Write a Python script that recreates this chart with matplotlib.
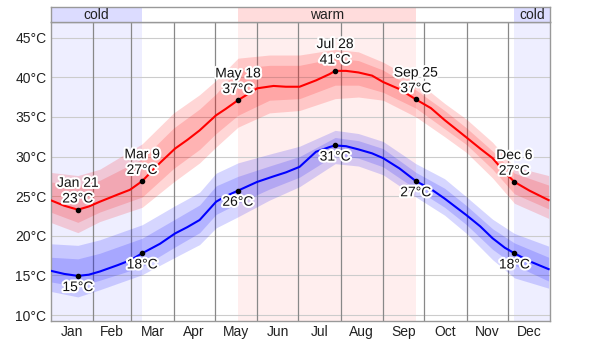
import numpy as np
import matplotlib
matplotlib.use("Agg")
import matplotlib.pyplot as plt
import matplotlib.patheffects as pe

plt.rcParams['font.family'] = ['Liberation Sans', 'DejaVu Sans']

# day of year (0 = Jan 1) and daily mean high / low
days = [0, 10, 20, 28, 36, 49, 58, 67, 80, 91, 100, 109, 121, 128, 137, 151, 163,
        172, 182, 194, 204, 208, 216, 225, 235, 243, 255, 267, 278, 288, 304, 314,
        323, 332, 339, 350, 364]
high = [24.5, 23.8, 23.3, 23.7, 24.3, 25.2, 25.8, 26.9, 29.2, 31.0, 32.1, 33.3,
        35.2, 36.0, 37.1, 38.6, 38.9, 38.8, 38.8, 39.6, 40.4, 40.8, 40.8, 40.6,
        40.2, 39.4, 38.5, 37.2, 36.1, 34.6, 32.4, 31.0, 29.8, 28.0, 26.8, 25.7, 24.5]
low = [15.6, 15.2, 14.95, 15.1, 15.5, 16.3, 16.9, 17.8, 19.0, 20.3, 21.1, 22.0,
       24.3, 25.0, 25.7, 26.8, 27.5, 28.0, 28.7, 30.6, 31.2, 31.4, 31.3, 30.9,
       30.4, 29.8, 28.5, 26.9, 25.9, 24.7, 22.6, 21.2, 19.7, 18.5, 17.8, 16.8, 15.8]

# percentile bands (10/25/75/90)
band_days = [0, 20, 36, 67, 90, 109, 121, 137, 160, 182, 208, 225, 243, 267, 288,
             304, 323, 339, 364]
high_p90 = [28.0, 27.6, 28.4, 31.6, 35.5, 37.8, 39.6, 42.4, 42.8, 42.8, 43.5, 43.2,
            41.9, 39.6, 36.7, 34.7, 31.8, 28.7, 27.6]
high_p75 = [26.8, 26.3, 27.0, 29.7, 33.6, 36.0, 37.9, 41.1, 41.5, 41.5, 42.4, 42.1,
            40.9, 38.4, 35.8, 33.6, 30.7, 27.9, 26.4]
high_p25 = [23.0, 21.7, 23.0, 24.9, 28.5, 30.9, 32.9, 35.2, 37.1, 37.3, 39.0, 39.0,
            38.1, 36.1, 33.5, 31.5, 28.4, 25.3, 23.4]
high_p10 = [21.7, 20.4, 21.8, 23.6, 26.8, 29.2, 31.2, 33.7, 35.5, 35.8, 37.3, 37.5,
            37.1, 35.0, 32.5, 30.5, 27.3, 24.1, 22.2]
low_p90 = [19.0, 18.8, 19.5, 21.4, 23.7, 25.5, 27.9, 29.2, 30.3, 31.3, 33.3, 32.9,
           31.9, 29.1, 27.2, 24.9, 22.1, 20.3, 18.7]
low_p75 = [17.3, 17.1, 17.8, 19.7, 22.0, 23.9, 26.3, 27.5, 28.8, 30.0, 32.4, 32.0,
           31.0, 28.0, 26.0, 23.8, 20.9, 19.1, 17.3]
low_p25 = [14.2, 13.6, 14.4, 16.1, 18.5, 20.4, 22.7, 24.1, 25.9, 27.4, 30.2, 29.8,
           28.7, 25.9, 23.6, 21.4, 18.3, 16.3, 14.3]
low_p10 = [13.0, 12.3, 13.2, 15.1, 17.2, 18.9, 21.0, 22.4, 24.5, 26.2, 29.1, 28.8,
           27.7, 24.9, 22.6, 20.3, 17.0, 14.7, 13.4]

# seasons
cold_spans = [(0, 67), (339, 365)]
warm_spans = [(137, 267)]

# annotated points
high_notes = [(20, 23.3, "Jan 21\n23°C"), (67, 26.9, "Mar 9\n27°C"),
              (137, 37.1, "May 18\n37°C"), (208, 40.8, "Jul 28\n41°C"),
              (267, 37.2, "Sep 25\n37°C"), (339, 26.8, "Dec 6\n27°C")]
low_notes = [(20, 14.95, "15°C"), (67, 17.8, "18°C"), (137, 25.7, "26°C"),
             (208, 31.4, "31°C"), (267, 26.9, "27°C"), (339, 17.8, "18°C")]

months = ["Jan", "Feb", "Mar", "Apr", "May", "Jun", "Jul", "Aug", "Sep", "Oct", "Nov", "Dec"]
month_len = [31, 28, 31, 30, 31, 30, 31, 31, 30, 31, 30, 31]

fig = plt.figure(figsize=(6, 3.44), dpi=100)
W, H = 600.0, 344.0
left, right, top, bottom, head_top = 50.5, 550, 21.7, 320.7, 6.5
ax = fig.add_axes([left / W, 1 - bottom / H, (right - left) / W, (bottom - top) / H])
hx = fig.add_axes([left / W, 1 - top / H, (right - left) / W, (top - head_top) / H])

edges = np.cumsum([0] + month_len)
for a, b in cold_spans:
    ax.axvspan(a, b, color="#eeeeff", lw=0, zorder=0)
    hx.axvspan(a, b, color="#dcdcff", lw=0)
    hx.text((a + b) / 2, 0.45, "cold", ha="center", va="center", fontsize=10, color="#222222")
for a, b in warm_spans:
    ax.axvspan(a, b, color="#ffeeee", lw=0, zorder=0)
    hx.axvspan(a, b, color="#ffdcdc", lw=0)
    hx.text((a + b) / 2, 0.45, "warm", ha="center", va="center", fontsize=10, color="#222222")

for y in range(10, 50, 5):
    ax.axhline(y, color="#cccccc", lw=0.8, zorder=1)
for e in edges[1:-1]:
    ax.axvline(e, color="#888888", lw=0.9, zorder=1)

ax.fill_between(band_days, high_p10, high_p90, color="#ff0000", alpha=0.16, lw=0, zorder=2)
ax.fill_between(band_days, high_p25, high_p75, color="#ff0000", alpha=0.16, lw=0, zorder=2)
ax.fill_between(band_days, low_p10, low_p90, color="#0000ff", alpha=0.16, lw=0, zorder=2)
ax.fill_between(band_days, low_p25, low_p75, color="#0000ff", alpha=0.16, lw=0, zorder=2)

ax.plot(days, high, color="#ff0000", lw=1.5, zorder=3)
ax.plot(days, low, color="#0000ff", lw=1.5, zorder=3)

halo = [pe.withStroke(linewidth=3, foreground="white")]
for d, t, s in high_notes:
    ax.plot(d, t, "o", color="black", ms=3, zorder=4)
    ax.annotate(s, (d, t), xytext=(0, 3), textcoords="offset points", ha="center",
                va="bottom", fontsize=10, linespacing=1.15, color="#111111",
                path_effects=halo, zorder=5)
for d, t, s in low_notes:
    ax.plot(d, t, "o", color="black", ms=3, zorder=4)
    ax.annotate(s, (d, t), xytext=(0, -3), textcoords="offset points", ha="center",
                va="top", fontsize=10, color="#111111", path_effects=halo, zorder=5)

ax.set_xlim(0, 365)
ax.set_ylim(9.3, 47)
ax.set_yticks(range(10, 50, 5))
ax.set_yticklabels([f"{v}°C" for v in range(10, 50, 5)])
ax.set_xticks((edges[:-1] + edges[1:]) / 2)
ax.set_xticklabels(months)
ax.tick_params(length=0, labelsize=10, colors="#222222", pad=3)

hx.set_xlim(0, 365)
hx.set_ylim(0, 1)
hx.set_xticks([])
hx.set_yticks([])
for axx in (ax, hx):
    for sp in axx.spines.values():
        sp.set_color("#999999")
        sp.set_linewidth(1)

fig.savefig("out.png", dpi=100)
